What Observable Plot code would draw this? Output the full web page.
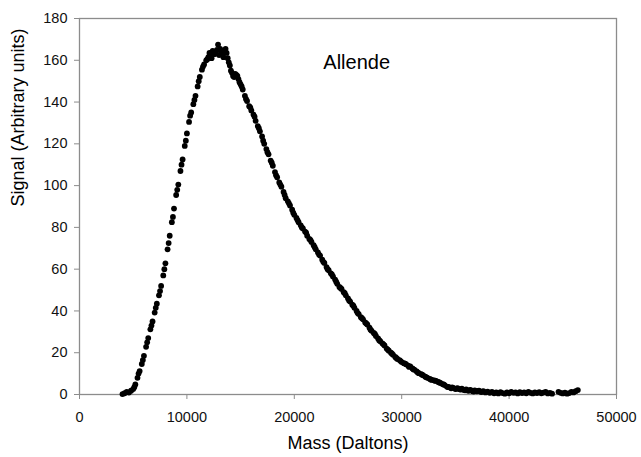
<!DOCTYPE html>
<html>
<head>
<meta charset="utf-8">
<script src="https://cdn.jsdelivr.net/npm/d3@7"></script>
<script src="https://cdn.jsdelivr.net/npm/@observablehq/plot@0.6"></script>
<style>
  html, body { margin: 0; padding: 0; background: #fff; }
  #chart svg { display: block; }
</style>
</head>
<body>
<div id="chart"></div>
<script>
// Mass (Daltons) and signal (arbitrary units)
const mass = [
  4000,4200,4400,4600,4800,5000,5200,5400,5600,5800,
  6000,6200,6400,6600,6800,7000,7200,7400,7600,7800,
  8000,8200,8400,8600,8800,9000,9200,9400,9600,9800,
  10000,10200,10400,10600,10800,11000,11200,11400,11600,11800,
  12000,12200,12400,12600,12800,12900,13000,13200,13400,13600,
  13800,14000,14200,14400,14600,14800,15000,15200,15400,15600,
  15800,16000,16200,16400,16600,16800,17000,17200,17400,17600,
  17800,18000,18200,18400,18600,18800,19000,19200,19400,19600,
  19800,20000,20200,20400,20600,20800,21000,21200,21400,21600,
  21800,22000,22200,22400,22600,22800,23000,23200,23400,23600,
  23800,24000,24200,24400,24600,24800,25000,25200,25400,25600,
  25800,26000,26200,26400,26600,26800,27000,27200,27400,27600,
  27800,28000,28200,28400,28600,28800,29000,29200,29400,29600,
  29800,30000,30200,30400,30600,30800,31000,31200,31400,31600,
  31800,32000,32200,32400,32600,32800,33000,33200,33400,33600,
  33800,34000,34200,34400,34600,34800,35000,35200,35400,35600,
  35800,36000,36200,36400,36600,36800,37000,37200,37400,37600,
  37800,38000,38200,38400,38600,38800,39000,39200,39400,39600,
  39800,40000,40200,40400,40600,40800,41000,41200,41400,41600,
  41800,42000,42200,42400,42600,42800,43000,43200,43400,43600,
  43800,44000,44600,44800,45000,45200,45400,45600,45800,46000,
  46200,46400
];
const signal = [
  0.2,0.6,1.2,0.9,1.8,2.6,4.8,8.0,11.2,14.6,
  18.5,22.8,27.0,31.2,35.0,39.2,43.5,47.5,52.0,57.0,
  62.8,69.5,76.0,82.5,89.0,95.5,100.5,107.0,112.5,119.0,
  125.0,130.5,135.0,139.0,143.0,147.5,152.0,155.5,158.0,160.0,
  161.5,162.0,164.5,163.0,165.0,167.5,162.5,164.0,161.5,165.5,
  161.0,157.5,154.0,152.0,153.0,151.0,148.5,146.0,143.0,140.5,
  138.0,136.0,134.0,131.0,128.5,126.0,123.5,120.0,117.5,115.0,
  112.0,109.5,106.5,104.0,101.5,99.5,97.0,94.0,92.5,90.5,
  88.5,86.0,84.5,82.5,81.0,79.5,78.0,76.0,74.5,73.0,
  71.5,69.5,68.0,66.5,64.5,63.0,61.0,59.5,58.0,56.5,
  55.0,53.0,51.5,50.5,49.0,47.5,46.0,44.5,43.0,41.5,
  40.0,38.5,37.0,36.0,34.5,33.5,32.0,30.5,29.5,28.0,
  26.8,25.5,24.5,23.5,22.0,21.0,20.0,19.0,18.0,17.0,
  16.5,15.5,15.0,14.5,13.8,13.5,12.5,11.8,11.0,10.2,
  9.8,9.2,8.5,8.0,7.5,7.0,6.8,6.5,6.0,5.5,
  5.0,4.5,3.8,3.5,3.0,3.2,2.6,3.0,2.5,2.8,
  2.2,2.5,1.8,2.2,1.6,2.0,1.5,1.8,1.2,1.6,
  1.0,1.4,0.8,1.2,0.6,1.0,0.5,1.1,0.7,0.4,
  1.0,0.6,1.2,0.8,1.0,0.5,1.1,0.7,1.0,0.6,
  1.2,0.8,0.5,1.0,0.7,1.1,0.6,0.9,1.2,0.5,
  0.8,0.4,1.3,0.8,0.5,0.9,0.4,0.7,1.3,1.0,
  1.6,2.1
];
// Extra scattered readings along the rise, peak and shoulders
const massExtra = [
  5100,5500,5900,6300,6700,7100,7500,7900,8300,
  8700,9100,9500,9900,10300,10700,11100,11500,11900,12100,
  12300,12500,12700,13100,13300,13500,13700,13900,14100,14300,
  14500,14700,14900,15100,15500,15900,16300,16700,17100,17500,
  17900,18300,18700,19100,19500,19900,20300,20700,21100,21500,
  21900,22300,22700,23100,23500,23900,24300,24700,25100,25500,
  25900,26300,26700,27100,27500,27900,28300,28700,29100,29500,
  29900,30300,30700,31100,31500,31900,32300,32700,33100,33500,
  33900,34300,34700,35100,35500,35900,36300,36700,37100,37500
];
const signalExtra = [
  3.5,10.0,16.5,25.0,33.0,41.5,49.5,60.0,72.5,
  85.0,98.0,110.0,121.5,133.5,141.0,150.0,157.0,160.5,163.5,
  161.0,163.0,164.0,165.5,163.0,164.5,163.5,159.0,155.0,152.5,
  153.5,152.5,149.5,147.5,141.5,137.5,133.0,127.5,121.5,116.0,
  111.0,105.0,100.5,95.5,91.5,87.0,83.5,80.0,77.5,74.0,
  70.5,67.0,63.5,60.0,57.5,54.0,51.0,48.5,45.0,42.5,
  39.0,36.5,34.0,31.0,29.0,26.0,24.0,21.5,19.5,17.5,
  16.0,14.8,13.2,12.0,10.5,9.5,8.2,7.2,6.6,5.8,
  4.8,3.6,3.4,2.8,2.4,2.0,2.0,1.4,1.7,1.4
];

const data = mass.map((m, i) => ({mass: m, signal: signal[i]}))
  .concat(massExtra.map((m, i) => ({mass: m, signal: signalExtra[i]})));

const xTicks = [0, 10000, 20000, 30000, 40000, 50000];
const yTicks = [0, 20, 40, 60, 80, 100, 120, 140, 160, 180];
const labelText = [{mass: 22700, signal: 159, text: "Allende"}];

const gray = "#8c8c8c";
const font = "'Liberation Sans', Arial, sans-serif";

const chart = Plot.plot({
  width: 641,
  height: 457,
  marginLeft: 79,
  marginRight: 25,
  marginTop: 18,
  marginBottom: 63,
  style: {fontFamily: font, fontSize: "14.5px", color: "#111", background: "#fff"},
  x: {domain: [0, 50000]},
  y: {domain: [0, 180]},
  marks: [
    Plot.frame({stroke: gray, strokeWidth: 1.3}),
    Plot.axisX({ticks: xTicks, tickFormat: d => String(d), tickSize: 5, tickPadding: 12, stroke: gray, label: null}),
    Plot.axisY({ticks: yTicks, tickFormat: d => String(d), tickSize: 5, tickPadding: 7, stroke: gray, label: null}),
    Plot.dot(data, {x: "mass", y: "signal", r: 2.9, fill: "#000", stroke: "none"}),
    Plot.text(labelText, {x: "mass", y: "signal", text: "text", textAnchor: "start", fontSize: 20, fill: "#000"}),
    Plot.text(["Mass (Daltons)"], {frameAnchor: "bottom", dy: 54, fontSize: 18, fill: "#000"}),
    Plot.text(["Signal (Arbitrary units)"], {frameAnchor: "left", dx: -61, rotate: -90, fontSize: 18, fill: "#000"})
  ]
});
document.getElementById("chart").appendChild(chart);
</script>
</body>
</html>
